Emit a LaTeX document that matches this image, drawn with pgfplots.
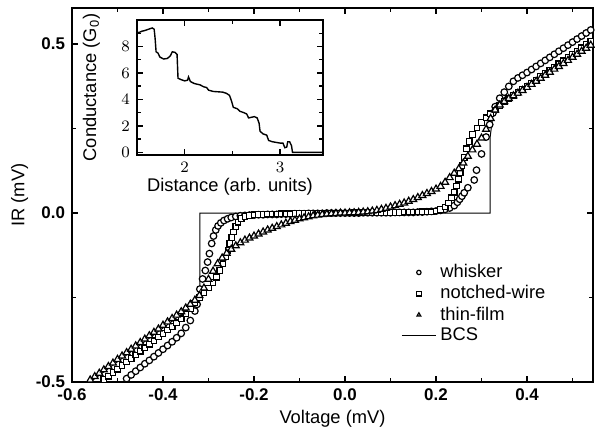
\documentclass[border=0pt]{standalone}
\usepackage{fontspec}
\setmainfont{Liberation Sans}
\usepackage{pgfplots}
\pgfplotsset{compat=1.18}

\begin{document}
\begin{tikzpicture}
\pgfplotsset{
  every axis/.append style={
    axis line style={line width=0.8pt},
    tick align=inside,
    major tick length=3bp,
    minor tick length=1.8bp,
    every tick/.style={black, line width=0.7pt},
    tick label style={font=\fontsize{8.5}{9}\selectfont\bfseries},
    label style={font=\fontsize{9.2}{10}\selectfont},
  },
}
% main I-V plot
\begin{axis}[
    name=main,
    at={(0,0)}, anchor=south west,
    scale only axis,
    width=260.5bp, height=187bp,
    xmin=-0.6, xmax=0.545,
    ymin=-0.5, ymax=0.607,
    xtick={-0.6,-0.4,-0.2,0,0.2,0.4},
    xticklabels={-0.6,-0.4,-0.2,0.0,0.2,0.4},
    minor xtick={-0.5,-0.3,-0.1,0.1,0.3,0.5},
    ytick={-0.5,0,0.5},
    yticklabels={-0.5,0.0,0.5},
    minor ytick={-0.25,0.25},
    xlabel={Voltage (mV)},
    ylabel={IR (mV)},
    xlabel style={yshift=2bp},
    ylabel style={yshift=-3bp},
    legend style={at={(0.62,0.337)}, anchor=north west, draw=none, fill=none,
        font=\fontsize{9.2}{10}\selectfont, row sep=-1.5bp,
        cells={anchor=west}},
    legend image post style={mark size=1.1bp},
]
% BCS
\addplot[black, line width=0.5pt, forget plot] coordinates {
  (-0.60,-0.540) (-0.56,-0.500) (-0.50,-0.440) (-0.45,-0.390) (-0.40,-0.340)
  (-0.36,-0.300) (-0.34,-0.280) (-0.325,-0.255) (-0.319,-0.225) (-0.319,0)
  (0.319,0) (0.319,0.225) (0.325,0.290) (0.34,0.320) (0.36,0.340)
  (0.40,0.375) (0.45,0.420) (0.50,0.465) (0.56,0.520)
};
% whisker
\addplot[only marks, mark=*, mark size=1.65bp,
  mark options={fill=white, draw=black, line width=0.6pt}] coordinates {
  (-0.51,-0.525) (-0.50,-0.513) (-0.49,-0.501) (-0.48,-0.490) (-0.47,-0.479)
  (-0.46,-0.468) (-0.45,-0.457) (-0.44,-0.446) (-0.43,-0.436) (-0.42,-0.425)
  (-0.41,-0.414) (-0.40,-0.403) (-0.39,-0.392) (-0.38,-0.381) (-0.37,-0.369)
  (-0.36,-0.356) (-0.35,-0.339) (-0.34,-0.318) (-0.33,-0.290) (-0.325,-0.270)
  (-0.321,-0.250) (-0.319,-0.225) (-0.313,-0.195) (-0.307,-0.170) (-0.302,-0.145)
  (-0.298,-0.120) (-0.293,-0.090) (-0.289,-0.068) (-0.284,-0.050) (-0.279,-0.038)
  (-0.273,-0.029) (-0.266,-0.022) (-0.258,-0.017) (-0.25,-0.013) (-0.24,-0.010)
  (-0.23,-0.008) (-0.22,-0.007) (-0.21,-0.006) (-0.20,-0.006) (-0.19,-0.005)
  (-0.18,-0.005) (-0.17,-0.004) (-0.16,-0.004) (-0.15,-0.004) (-0.14,-0.003)
  (-0.13,-0.003) (-0.12,-0.003) (-0.11,-0.002) (-0.10,-0.002) (-0.09,-0.002)
  (-0.08,-0.001) (-0.07,-0.001) (-0.06,-0.001) (-0.05,-0.001) (-0.04,0.000)
  (-0.03,0.000) (-0.02,0.000) (-0.01,0.000) (0.00,0.000) (0.01,0.000)
  (0.02,0.000) (0.03,0.000) (0.04,0.001) (0.05,0.001) (0.06,0.001)
  (0.07,0.001) (0.08,0.001) (0.09,0.001) (0.10,0.001) (0.11,0.002)
  (0.12,0.002) (0.13,0.002) (0.14,0.002) (0.15,0.002) (0.16,0.003)
  (0.17,0.003) (0.18,0.004) (0.19,0.005) (0.20,0.006) (0.21,0.008)
  (0.22,0.011) (0.23,0.015) (0.24,0.022) (0.247,0.032) (0.252,0.041)
  (0.257,0.050) (0.262,0.060) (0.27,0.075) (0.284,0.098) (0.289,0.127)
  (0.30,0.175) (0.31,0.225) (0.318,0.262) (0.325,0.296) (0.33,0.315)
  (0.34,0.340) (0.35,0.358) (0.36,0.375) (0.37,0.390) (0.38,0.400)
  (0.39,0.408) (0.40,0.416) (0.41,0.425) (0.42,0.434) (0.43,0.443)
  (0.44,0.452) (0.45,0.461) (0.46,0.470) (0.47,0.479) (0.48,0.488)
  (0.49,0.497) (0.50,0.506) (0.51,0.515) (0.52,0.524) (0.53,0.533)
  (0.54,0.542) (0.55,0.551)
};
\addlegendentry{whisker}
% notched-wire
\addplot[only marks, mark=square*, mark size=1.4bp,
  mark options={fill=white, draw=black, line width=0.6pt}] coordinates {
  (-0.54,-0.504) (-0.53,-0.493) (-0.52,-0.483) (-0.51,-0.472) (-0.50,-0.462)
  (-0.49,-0.451) (-0.48,-0.441) (-0.47,-0.430) (-0.46,-0.420) (-0.45,-0.409)
  (-0.44,-0.399) (-0.43,-0.388) (-0.42,-0.378) (-0.41,-0.367) (-0.40,-0.357)
  (-0.39,-0.346) (-0.38,-0.336) (-0.37,-0.325) (-0.36,-0.313) (-0.35,-0.298)
  (-0.34,-0.283) (-0.33,-0.266) (-0.32,-0.250) (-0.31,-0.236) (-0.30,-0.222)
  (-0.29,-0.205) (-0.282,-0.190) (-0.275,-0.170) (-0.268,-0.150) (-0.262,-0.130)
  (-0.257,-0.110) (-0.253,-0.090) (-0.249,-0.072) (-0.245,-0.056) (-0.240,-0.040)
  (-0.235,-0.027) (-0.228,-0.016) (-0.22,-0.010) (-0.21,-0.007) (-0.20,-0.005)
  (-0.19,-0.004) (-0.18,-0.004) (-0.17,-0.003) (-0.16,-0.003) (-0.15,-0.003)
  (-0.14,-0.002) (-0.13,-0.002) (-0.12,-0.002) (-0.11,-0.001) (-0.10,-0.001)
  (-0.09,-0.001) (-0.08,-0.001) (-0.07,0.000) (-0.06,0.000) (-0.05,0.000)
  (-0.04,0.000) (-0.03,0.000) (-0.02,0.000) (-0.01,0.000) (0.00,0.000)
  (0.01,0.000) (0.02,0.001) (0.03,0.001) (0.04,0.001) (0.05,0.001)
  (0.06,0.001) (0.07,0.001) (0.08,0.002) (0.09,0.002) (0.10,0.002)
  (0.11,0.002) (0.12,0.002) (0.13,0.003) (0.14,0.003) (0.15,0.003)
  (0.16,0.003) (0.17,0.004) (0.18,0.004) (0.19,0.004) (0.20,0.006)
  (0.21,0.010) (0.22,0.018) (0.227,0.030) (0.234,0.045) (0.240,0.062)
  (0.245,0.080) (0.249,0.100) (0.253,0.120) (0.257,0.140) (0.262,0.165)
  (0.267,0.190) (0.273,0.212) (0.28,0.232) (0.29,0.252) (0.30,0.268)
  (0.31,0.282) (0.32,0.294) (0.33,0.305) (0.34,0.318) (0.35,0.330)
  (0.36,0.340) (0.37,0.349) (0.38,0.357) (0.39,0.366) (0.40,0.375)
  (0.41,0.385) (0.42,0.394) (0.43,0.404) (0.44,0.413) (0.45,0.423)
  (0.46,0.432) (0.47,0.442) (0.48,0.451) (0.49,0.461) (0.50,0.470)
  (0.51,0.480) (0.52,0.489) (0.53,0.499) (0.54,0.508) (0.55,0.518)
};
\addlegendentry{notched-wire}
% thin-film
\addplot[only marks, mark=triangle*, mark size=2bp,
  mark options={fill=white, draw=black, line width=0.6pt}] coordinates {
  (-0.57,-0.504) (-0.56,-0.494) (-0.55,-0.484) (-0.54,-0.474) (-0.53,-0.464)
  (-0.52,-0.454) (-0.51,-0.444) (-0.50,-0.433) (-0.49,-0.423) (-0.48,-0.413)
  (-0.47,-0.403) (-0.46,-0.393) (-0.45,-0.383) (-0.44,-0.373) (-0.43,-0.363)
  (-0.42,-0.353) (-0.41,-0.343) (-0.40,-0.332) (-0.39,-0.322) (-0.38,-0.312)
  (-0.37,-0.302) (-0.36,-0.292) (-0.35,-0.281) (-0.34,-0.270) (-0.33,-0.258)
  (-0.32,-0.244) (-0.31,-0.222) (-0.30,-0.196) (-0.29,-0.172) (-0.28,-0.150)
  (-0.27,-0.133) (-0.26,-0.119) (-0.25,-0.107) (-0.24,-0.097) (-0.23,-0.088)
  (-0.22,-0.080) (-0.21,-0.074) (-0.20,-0.068) (-0.19,-0.062) (-0.18,-0.056)
  (-0.17,-0.050) (-0.16,-0.045) (-0.15,-0.040) (-0.14,-0.035) (-0.13,-0.030)
  (-0.12,-0.025) (-0.11,-0.021) (-0.10,-0.017) (-0.09,-0.014) (-0.08,-0.011)
  (-0.07,-0.008) (-0.06,-0.006) (-0.05,-0.004) (-0.04,-0.003) (-0.03,-0.002)
  (-0.02,-0.001) (-0.01,0.000) (0.00,0.000) (0.01,0.001) (0.02,0.001)
  (0.03,0.002) (0.04,0.003) (0.05,0.004) (0.06,0.006) (0.07,0.008)
  (0.08,0.011) (0.09,0.014) (0.10,0.018) (0.11,0.022) (0.12,0.026)
  (0.13,0.030) (0.14,0.035) (0.15,0.040) (0.16,0.046) (0.17,0.052)
  (0.18,0.058) (0.19,0.064) (0.20,0.071) (0.21,0.079) (0.22,0.091)
  (0.23,0.105) (0.24,0.118) (0.25,0.131) (0.26,0.148) (0.27,0.168)
  (0.28,0.187) (0.29,0.204) (0.30,0.222) (0.31,0.248) (0.32,0.280)
  (0.33,0.305) (0.34,0.320) (0.35,0.330) (0.36,0.339) (0.37,0.347)
  (0.38,0.355) (0.39,0.363) (0.40,0.372) (0.41,0.381) (0.42,0.390)
  (0.43,0.399) (0.44,0.408) (0.45,0.417) (0.46,0.426) (0.47,0.434)
  (0.48,0.443) (0.49,0.452) (0.50,0.461) (0.51,0.470) (0.52,0.479)
  (0.53,0.488) (0.54,0.497) (0.55,0.506)
};
\addlegendentry{thin-film}
\addlegendimage{black, line width=0.5pt}
\addlegendentry{BCS}
\end{axis}

% inset: conductance trace
\begin{axis}[
    at={(32.5bp,113.5bp)}, anchor=south west,
    scale only axis,
    width=93bp, height=67.5bp,
    axis background/.style={fill=white},
    xmin=1.5, xmax=3.45,
    ymin=-0.2, ymax=10,
    xtick={2,3},
    minor xtick={2.5},
    ytick={0,2,4,6,8},
    minor ytick={1,3,5,7,9},
    xlabel={Distance (arb. units)},
    ylabel={Conductance (G\textsubscript{0})},
    xlabel style={yshift=4bp},
    ylabel style={yshift=4bp},
]
\addplot[black, line width=0.7pt] coordinates {
  (1.50,9.10) (1.52,9.05) (1.55,9.15) (1.58,9.20) (1.62,9.30) (1.66,9.40)
  (1.68,9.30) (1.69,8.60) (1.70,7.60) (1.72,7.50) (1.74,7.20) (1.78,7.05)
  (1.82,7.10) (1.85,7.30) (1.87,7.60) (1.90,7.55) (1.92,7.40) (1.93,5.60)
  (1.96,5.50) (2.00,5.40) (2.03,5.45) (2.04,5.70) (2.06,5.35) (2.10,5.20)
  (2.16,5.10) (2.20,4.95) (2.23,4.90) (2.25,4.70) (2.30,4.60) (2.40,4.55)
  (2.44,4.45) (2.47,4.30) (2.49,3.90) (2.51,3.40) (2.55,3.30) (2.58,3.10)
  (2.62,3.00) (2.65,2.90) (2.67,2.60) (2.70,2.65) (2.73,2.70) (2.76,2.60)
  (2.78,2.20) (2.79,1.60) (2.82,1.40) (2.86,1.30) (2.88,0.90) (2.92,0.80)
  (2.96,0.75) (3.00,0.70) (3.03,0.70) (3.05,0.35) (3.07,0.40) (3.08,0.80)
  (3.10,0.80) (3.12,0.50) (3.13,0.00) (3.45,0.00)
};
\end{axis}

\pgfresetboundingbox
\path[use as bounding box] (-36bp,-24bp) rectangle (261.5bp,191bp);
\end{tikzpicture}
\end{document}
